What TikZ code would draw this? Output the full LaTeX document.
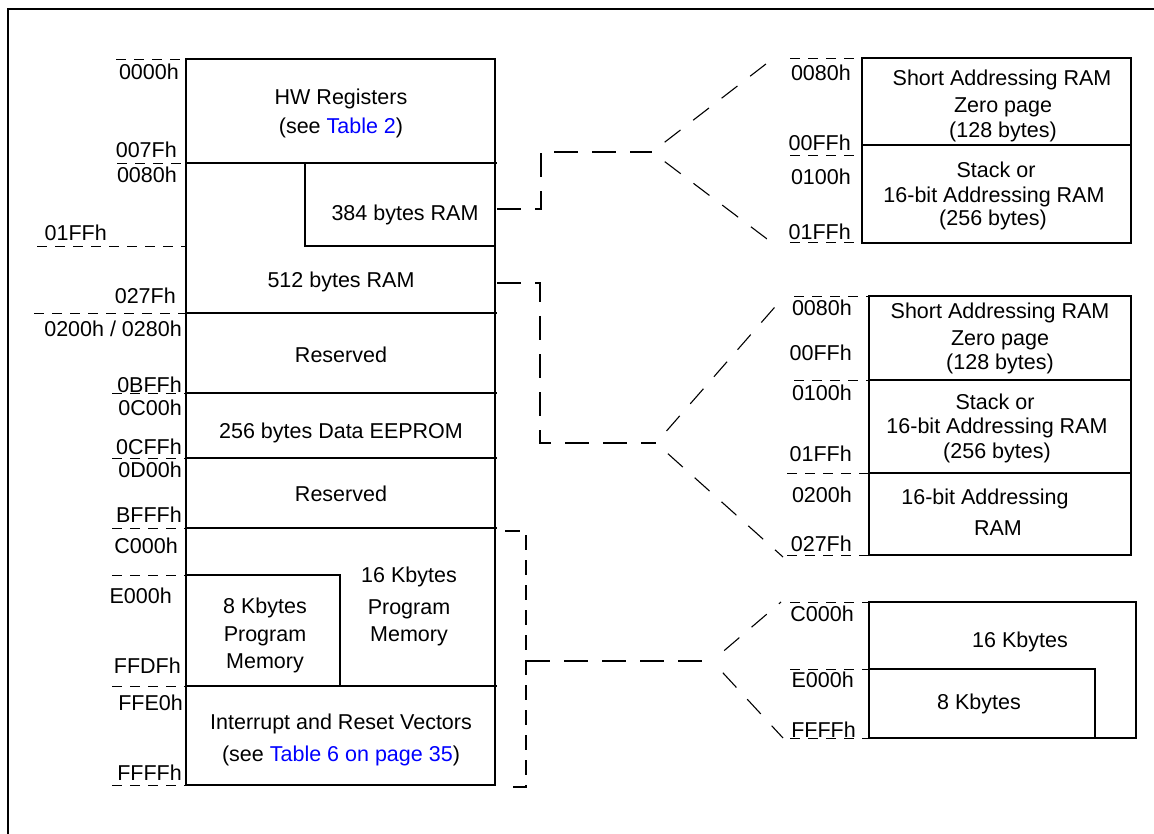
\documentclass[tikz,border=0pt]{standalone}
\usepackage{fontspec}
\setmainfont{Liberation Sans}
\newcommand\addrfont{\fontsize{21.5}{26}\selectfont}
\definecolor{linkblue}{RGB}{0,0,255}
\begin{document}
\begin{tikzpicture}[x=1pt,y=-1pt,
  box/.style={line width=2pt},
  tick/.style={line width=0.9pt, dash pattern=on 10pt off 8pt},
  conn/.style={line width=2pt, dash pattern=on 24pt off 14pt},
  connb/.style={line width=2pt, dash pattern=on 15pt off 10pt},
  fan/.style={line width=1.1pt, dash pattern=on 20pt off 16pt, dash phase=20pt},
  lbl/.style={anchor=base east, inner sep=0pt, font=\addrfont},
  txt/.style={anchor=base, inner sep=0pt, font=\addrfont},
]
\useasboundingbox (0,0) rectangle (1154,834);
% frame
\draw[line width=2.2pt] (8,834) -- (8,9) -- (1154,9);

% ---------------- main memory map ----------------
\draw[box] (186,59) rectangle (495,785);
\foreach \yy in {163,313,393,458,528,686} \draw[box] (186,\yy) -- (497,\yy);
\draw[box] (305,163) -- (305,246) -- (495,246);
\draw[box] (186,575) -- (340,575) -- (340,686);

% left ticks
\draw[tick] (116,59) -- (186,59);
\draw[tick] (117,163) -- (186,163);
\draw[tick] (37,246) -- (186,246);
\draw[tick] (34,313) -- (186,313);
\foreach \yy in {393,458,528,575,686,785} \draw[tick] (112,\yy) -- (186,\yy);

% left labels
\node[lbl] (a0000) at (179,80) {0000h};
\node[lbl] (a007F) at (177,158) {007Fh};
\node[lbl] (a0080) at (177,183) {0080h};
\node[lbl] (a01FF) at (107,241) {01FFh};
\node[lbl] (a027F) at (176,304) {027Fh};
\node[lbl] (a0200) at (182,337) {0200h / 0280h};
\node[lbl] (a0BFF) at (182,392) {0BFFh};
\node[lbl] (a0C00) at (182,415) {0C00h};
\node[lbl] (a0CFF) at (182,454) {0CFFh};
\node[lbl] (a0D00) at (182,477) {0D00h};
\node[lbl] (aBFFF) at (182,522) {BFFFh};
\node[lbl] (aC000) at (178,553) {C000h};
\node[lbl] (aE000) at (172,603) {E000h};
\node[lbl] (aFFDF) at (181,673) {FFDFh};
\node[lbl] (aFFE0) at (183,710) {FFE0h};
\node[lbl] (aFFFF) at (182,780) {FFFFh};

% box texts
\node[txt] (hw1) at (341,105) {HW Registers};
\node[txt] (hw2) at (341,134) {(see \textcolor{linkblue}{Table 2})};
\node[txt] (r384) at (405,221) {384 bytes RAM};
\node[txt] (r512) at (341,288) {512 bytes RAM};
\node[txt] (res1) at (341,362) {Reserved};
\node[txt] (eep) at (341,438) {256 bytes Data EEPROM};
\node[txt] (res2) at (341,501) {Reserved};
\node[txt] (p16a) at (409,582) {16 Kbytes};
\node[txt] (p16b) at (409,614) {Program};
\node[txt] (p16c) at (409,641) {Memory};
\node[txt] (p8a) at (265,613) {8 Kbytes};
\node[txt] (p8b) at (265,641) {Program};
\node[txt] (p8c) at (265,668) {Memory};
\node[txt] (irv1) at (341,729) {Interrupt and Reset Vectors};
\node[txt] (irv2) at (341,761) {(see \textcolor{linkblue}{Table 6 on page 35})};

% ---------------- right box 1 ----------------
\draw[box] (862,58) rectangle (1131,243);
\draw[box] (862,145) -- (1131,145);
\foreach \yy in {58,155,242} \draw[tick] (790,\yy) -- (862,\yy);
\node[lbl] (b0080) at (851,81) {0080h};
\node[lbl] (b00FF) at (851,151) {00FFh};
\node[lbl] (b0100) at (851,185) {0100h};
\node[lbl] (b01FF) at (851,240) {01FFh};
\node[txt] at (1002,86) {Short Addressing RAM};
\node[txt] at (1003,113) {Zero page};
\node[txt] at (1003,138) {(128 bytes)};
\node[txt] at (996,178) {Stack or};
\node[txt] at (994,203) {16-bit Addressing RAM};
\node[txt] at (993,226) {(256 bytes)};

% ---------------- right box 2 ----------------
\draw[box] (869,296) rectangle (1131,555);
\draw[box] (869,380) -- (1131,380);
\draw[box] (869,473) -- (1131,473);
\foreach \yy in {296,380} \draw[tick] (794,\yy) -- (869,\yy);
\foreach \yy in {473,555} \draw[tick] (787,\yy) -- (869,\yy);
\node[lbl] (c0080) at (852,316) {0080h};
\node[lbl] (c00FF) at (852,360) {00FFh};
\node[lbl] (c0100) at (852,400) {0100h};
\node[lbl] (c01FF) at (852,461) {01FFh};
\node[lbl] (c0200) at (852,502) {0200h};
\node[lbl] (c027F) at (852,551) {027Fh};
\node[txt] at (1000,319) {Short Addressing RAM};
\node[txt] at (1000,345) {Zero page};
\node[txt] at (1000,370) {(128 bytes)};
\node[txt] at (995,409) {Stack or};
\node[txt] at (997,433) {16-bit Addressing RAM};
\node[txt] at (997,458) {(256 bytes)};
\node[txt] at (985,504) {16-bit Addressing};
\node[txt] at (998,535) {RAM};

% ---------------- right box 3 ----------------
\draw[box] (869,602) rectangle (1136,738);
\draw[box] (869,669) -- (1095,669) -- (1095,738);
\foreach \yy in {602,669,738} \draw[tick] (790,\yy) -- (869,\yy);
\node[lbl] (dC000) at (854,621) {C000h};
\node[lbl] (dE000) at (854,687) {E000h};
\node[lbl] (dFFFF) at (856,737) {FFFFh};
\node[txt] at (1020,647) {16 Kbytes};
\node[txt] at (979,709) {8 Kbytes};

% ---------------- connectors ----------------
\coordinate (s1) at (497,209);
\coordinate (k1) at (541,152);
\coordinate (x1) at (652,152);
\coordinate (u1) at (775,57);
\coordinate (l1) at (775,245);
\draw[conn] (s1) -| (k1) -- (x1);
\draw[fan] (x1) -- (u1);
\draw[fan] (x1) -- (l1);

\coordinate (s2) at (497,283);
\coordinate (k2) at (540,443);
\coordinate (x2) at (656,443);
\coordinate (u2) at (781,300);
\coordinate (l2) at (783,557);
\draw[conn] (s2) -| (k2) -- (x2);
\draw[fan] (x2) -- (u2);
\draw[fan] (x2) -- (l2);

\coordinate (t3) at (505,531);
\coordinate (b3) at (505,787);
\coordinate (m3) at (526,661);
\coordinate (x3) at (712,661);
\coordinate (u3) at (781,602);
\coordinate (l3) at (783,738);
\draw[connb] (t3) -- (t3 -| m3) -- (b3 -| m3) -- (b3);
\draw[conn] (m3) -- (x3);
\draw[fan] (x3) -- (u3);
\draw[fan] (x3) -- (l3);
\end{tikzpicture}
\end{document}
